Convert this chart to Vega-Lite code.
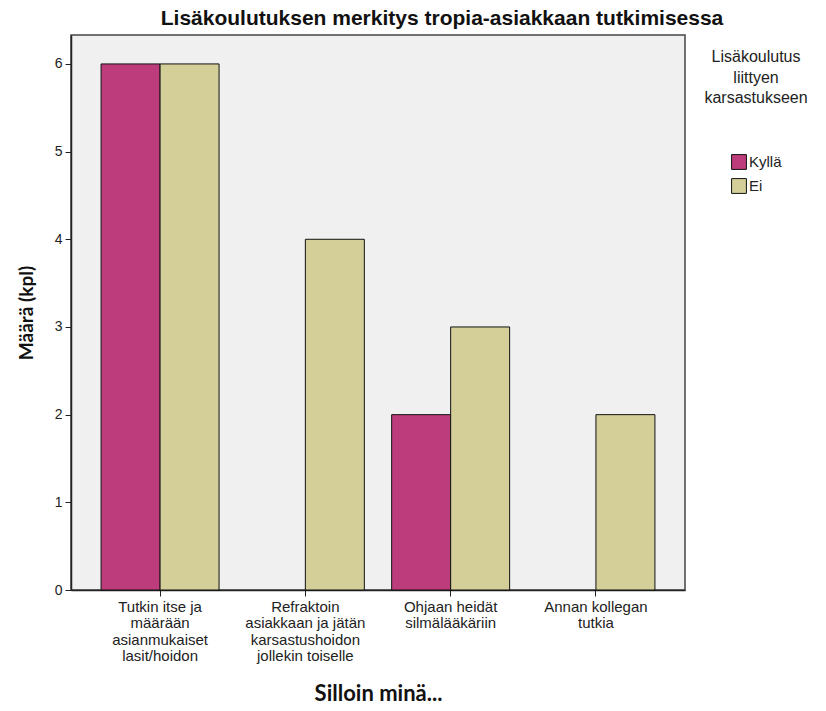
{
  "$schema": "https://vega.github.io/schema/vega-lite/v6.json",
  "width": 614,
  "height": 555,
  "autosize": {"type": "none"},
  "padding": {"left": 71, "top": 35, "right": 141, "bottom": 121},
  "background": "white",
  "title": {
    "text": "Lisäkoulutuksen merkitys tropia-asiakkaan tutkimisessa",
    "font": "Liberation Sans Narrow, Liberation Sans",
    "fontSize": 21,
    "fontWeight": "bold",
    "color": "#111",
    "anchor": "middle",
    "dx": 64,
    "offset": 6
  },
  "data": {
    "values": [
      {"kategoria": "Tutkin itse ja|määrään|asianmukaiset|lasit/hoidon", "ryhma": "Kyllä", "maara": 6},
      {"kategoria": "Tutkin itse ja|määrään|asianmukaiset|lasit/hoidon", "ryhma": "Ei", "maara": 6},
      {"kategoria": "Refraktoin|asiakkaan ja jätän|karsastushoidon|jollekin toiselle", "ryhma": "Ei", "maara": 4},
      {"kategoria": "Ohjaan heidät|silmälääkäriin", "ryhma": "Kyllä", "maara": 2},
      {"kategoria": "Ohjaan heidät|silmälääkäriin", "ryhma": "Ei", "maara": 3},
      {"kategoria": "Annan kollegan|tutkia", "ryhma": "Ei", "maara": 2}
    ]
  },
  "mark": {"type": "bar", "stroke": "#111", "strokeWidth": 1},
  "encoding": {
    "x": {
      "field": "kategoria",
      "type": "nominal",
      "sort": null,
      "scale": {"paddingInner": 0.188, "paddingOuter": 0.207},
      "axis": {
        "title": "Silloin minä...",
        "titleFont": "Lato",
        "titleFontSize": 22,
        "titleFontWeight": "bold",
        "titleColor": "#111",
        "titlePadding": 20,
        "labelExpr": "split(datum.label, '|')",
        "labelAngle": 0,
        "labelFont": "Liberation Sans",
        "labelFontSize": 15,
        "labelColor": "#222",
        "labelLineHeight": 16.5,
        "labelPadding": 3,
        "tickColor": "#222",
        "tickSize": 6,
        "domainColor": "#222",
        "domainWidth": 1.5
      }
    },
    "xOffset": {
      "field": "ryhma",
      "type": "nominal",
      "sort": ["Kyllä", "Ei"],
      "scale": {"paddingInner": 0, "paddingOuter": 0}
    },
    "y": {
      "field": "maara",
      "type": "quantitative",
      "scale": {"domain": [0, 6.33], "nice": false},
      "axis": {
        "title": "Määrä (kpl)",
        "titleFont": "Lato",
        "titleFontSize": 19,
        "titleFontWeight": "bold",
        "titleColor": "#111",
        "titlePadding": 18,
        "values": [0, 1, 2, 3, 4, 5, 6],
        "grid": false,
        "labelFont": "Liberation Sans",
        "labelFontSize": 14,
        "labelColor": "#222",
        "labelPadding": 3,
        "tickColor": "#222",
        "tickSize": 6,
        "domainColor": "#222",
        "domainWidth": 1.5
      }
    },
    "fill": {
      "field": "ryhma",
      "type": "nominal",
      "sort": ["Kyllä", "Ei"],
      "scale": {"domain": ["Kyllä", "Ei"], "range": ["#bd3c7b", "#d4cf98"]},
      "legend": {
        "orient": "none",
        "legendX": 633,
        "legendY": 14,
        "title": ["Lisäkoulutus", "liittyen", "karsastukseen"],
        "titleFont": "Liberation Sans",
        "titleFontSize": 16,
        "titleFontWeight": "normal",
        "titleColor": "#222",
        "titleLineHeight": 20.5,
        "titleAnchor": "middle",
        "titleAlign": "center",
        "titlePadding": 48,
        "symbolType": "square",
        "symbolSize": 220,
        "symbolStrokeColor": "#111",
        "symbolStrokeWidth": 1,
        "symbolOpacity": 1,
        "labelFont": "Liberation Sans",
        "labelFontSize": 15,
        "labelColor": "#222",
        "labelOffset": 2,
        "rowPadding": 4
      }
    }
  },
  "config": {
    "view": {"fill": "#f0f0f0", "stroke": "#444", "strokeWidth": 1.5}
  }
}
